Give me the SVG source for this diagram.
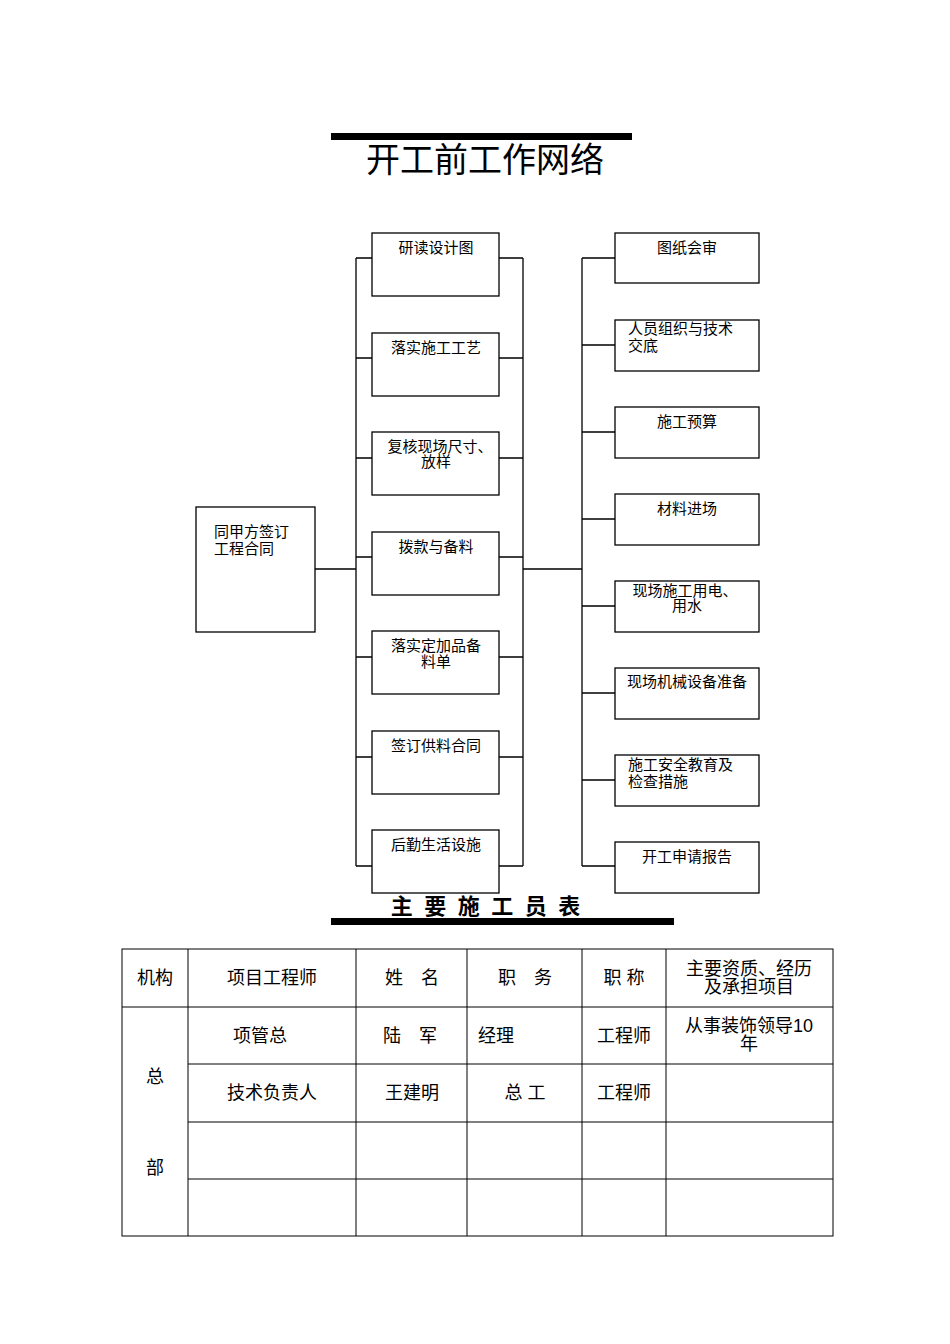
<svg xmlns="http://www.w3.org/2000/svg" width="950" height="1344" viewBox="0 0 950 1344">
<style>
.b{fill:#fff;stroke:#000;stroke-width:1.3}
.l{stroke:#000;stroke-width:1.3;fill:none}
.t{font-family:"Liberation Serif","Noto Sans CJK SC",serif;font-size:15px;fill:#000}
.s{font-family:"Liberation Sans","Noto Sans CJK SC",sans-serif;font-size:18px;fill:#000}
</style>
<rect width="950" height="1344" fill="#fff"/>
<rect x="331" y="133" width="301" height="7"/>
<text x="485" y="172" text-anchor="middle" font-family="Liberation Serif,Noto Sans CJK SC,serif" font-size="34">开工前工作网络</text>
<g id="connectors" class="l">
<path d="M315 569H356M356 258V866M356 258H372M356 358H372M356 458H372M356 557H372M356 657H372M356 757H372M356 866H372"/>
<path d="M499 258H523M499 358H523M499 458H523M499 557H523M499 657H523M499 757H523M499 866H523M523 258V866M523 569H582"/>
<path d="M582 258V866M582 258H615M582 345H615M582 432H615M582 519H615M582 606H615M582 693H615M582 780H615M582 866H615"/>
</g>
<g id="n0"><rect class="b" x="196" y="507" width="119" height="125"/><text class="t" x="214" y="537">同甲方签订</text><text class="t" x="214" y="554">工程合同</text></g>
<g id="m1"><rect class="b" x="372" y="233" width="127" height="63"/><text class="t" x="436" y="253" text-anchor="middle">研读设计图</text></g>
<g id="m2"><rect class="b" x="372" y="333" width="127" height="63"/><text class="t" x="436" y="353" text-anchor="middle">落实施工工艺</text></g>
<g id="m3"><rect class="b" x="372" y="432" width="127" height="63"/><text class="t" x="440" y="452" text-anchor="middle">复核现场尺寸、</text><text class="t" x="436" y="467" text-anchor="middle">放样</text></g>
<g id="m4"><rect class="b" x="372" y="532" width="127" height="63"/><text class="t" x="436" y="552" text-anchor="middle">拨款与备料</text></g>
<g id="m5"><rect class="b" x="372" y="631" width="127" height="63"/><text class="t" x="436" y="651" text-anchor="middle">落实定加品备</text><text class="t" x="436" y="667" text-anchor="middle">料单</text></g>
<g id="m6"><rect class="b" x="372" y="731" width="127" height="63"/><text class="t" x="436" y="751" text-anchor="middle">签订供料合同</text></g>
<g id="m7"><rect class="b" x="372" y="830" width="127" height="63"/><text class="t" x="436" y="850" text-anchor="middle">后勤生活设施</text></g>
<g id="r1"><rect class="b" x="615" y="233" width="144" height="50"/><text class="t" x="687" y="253" text-anchor="middle">图纸会审</text></g>
<g id="r2"><rect class="b" x="615" y="320" width="144" height="51"/><text class="t" x="628" y="334">人员组织与技术</text><text class="t" x="628" y="351">交底</text></g>
<g id="r3"><rect class="b" x="615" y="407" width="144" height="51"/><text class="t" x="687" y="427" text-anchor="middle">施工预算</text></g>
<g id="r4"><rect class="b" x="615" y="494" width="144" height="51"/><text class="t" x="687" y="514" text-anchor="middle">材料进场</text></g>
<g id="r5"><rect class="b" x="615" y="581" width="144" height="51"/><text class="t" x="685" y="596" text-anchor="middle">现场施工用电、</text><text class="t" x="687" y="611" text-anchor="middle">用水</text></g>
<g id="r6"><rect class="b" x="615" y="668" width="144" height="51"/><text class="t" x="687" y="687" text-anchor="middle" font-size="14">现场机械设备准备</text></g>
<g id="r7"><rect class="b" x="615" y="755" width="144" height="51"/><text class="t" x="628" y="770">施工安全教育及</text><text class="t" x="628" y="787">检查措施</text></g>
<g id="r8"><rect class="b" x="615" y="842" width="144" height="51"/><text class="t" x="687" y="862" text-anchor="middle">开工申请报告</text></g>
<text x="487" y="914" text-anchor="middle" font-family="Liberation Serif,Noto Sans CJK SC,serif" font-size="22" font-weight="bold" letter-spacing="3">主 要 施 工 员 表</text>
<rect x="331" y="918" width="343" height="7"/>
<g id="table">
<rect x="122" y="949" width="711" height="287" fill="none" stroke="#000" stroke-width="1"/>
<path d="M122 1007H833M188 1064H833M188 1122H833M188 1179H833M188 949V1236M356 949V1236M467 949V1236M582 949V1236M666 949V1236" stroke="#000" stroke-width="1"/>
<text class="s" x="155" y="984" text-anchor="middle">机构</text>
<text class="s" x="272" y="984" text-anchor="middle">项目工程师</text>
<text class="s" x="412" y="984" text-anchor="middle">姓　名</text>
<text class="s" x="525" y="984" text-anchor="middle">职　务</text>
<text class="s" x="624" y="984" text-anchor="middle">职 称</text>
<text class="s" x="749" y="975" text-anchor="middle">主要资质、经历</text>
<text class="s" x="749" y="993" text-anchor="middle">及承担项目</text>
<text class="s" x="155" y="1083" text-anchor="middle">总</text>
<text class="s" x="155" y="1174" text-anchor="middle">部</text>
<text class="s" x="233" y="1042">项管总</text>
<text class="s" x="383" y="1042">陆　军</text>
<text class="s" x="478" y="1042">经理</text>
<text class="s" x="624" y="1042" text-anchor="middle">工程师</text>
<text class="s" x="749" y="1032" text-anchor="middle">从事装饰领导10</text>
<text class="s" x="749" y="1050" text-anchor="middle">年</text>
<text class="s" x="272" y="1099" text-anchor="middle">技术负责人</text>
<text class="s" x="412" y="1099" text-anchor="middle">王建明</text>
<text class="s" x="525" y="1099" text-anchor="middle">总 工</text>
<text class="s" x="624" y="1099" text-anchor="middle">工程师</text>
</g>
</svg>
